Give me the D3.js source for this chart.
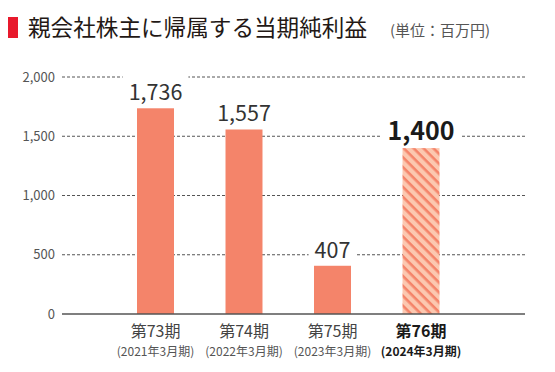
<!DOCTYPE html>
<html lang="ja">
<head>
<meta charset="utf-8">
<script src="https://cdn.jsdelivr.net/npm/d3@7"></script>
<style>
  html, body { margin: 0; padding: 0; background: #fff; }
  #chart { width: 555px; height: 372px; }
  text { font-family: "Noto Sans CJK JP", "Noto Sans", sans-serif; }
</style>
</head>
<body>
<div id="chart"></div>
<script>
// ====== data ======
const periods   = ["第73期", "第74期", "第75期", "第76期"];
const fiscal    = ["(2021年3月期)", "(2022年3月期)", "(2023年3月期)", "(2024年3月期)"];
const values    = [1736, 1557, 407, 1400];
const forecast  = [false, false, false, true];   // last bar is hatched & bold
const yTicks    = [0, 500, 1000, 1500, 2000];

const title = "親会社株主に帰属する当期純利益";
const unit  = "(単位：百万円)";

// ====== chart ======
const width = 555, height = 372;
const svg = d3.select("#chart").append("svg")
  .attr("width", width)
  .attr("height", height);

// hatch pattern for the forecast bar (stripes run top-left -> bottom-right)
const defs = svg.append("defs");
const pat = defs.append("pattern")
  .attr("id", "hatch")
  .attr("patternUnits", "userSpaceOnUse")
  .attr("width", 7).attr("height", 7)
  .attr("patternTransform", "rotate(45)");
pat.append("rect").attr("width", 7).attr("height", 7).attr("fill", "#fcc8b0");
pat.append("rect").attr("width", 7).attr("height", 2.6).attr("fill", "#f4846a");

// title
svg.append("rect")
  .attr("x", 8).attr("y", 17).attr("width", 10).attr("height", 21)
  .attr("fill", "#e8192c");
svg.append("text")
  .attr("x", 28).attr("y", 36)
  .attr("font-size", 22.5)
  .attr("textLength", 339)
  .attr("lengthAdjust", "spacingAndGlyphs")
  .attr("fill", "#231815")
  .text(title);
svg.append("text")
  .attr("x", 390).attr("y", 36)
  .attr("font-size", 14.5)
  .attr("textLength", 100)
  .attr("lengthAdjust", "spacingAndGlyphs")
  .attr("fill", "#555")
  .text(unit);

// scales
const y = d3.scaleLinear().domain([0, 2000]).range([314, 77]);
const x = d3.scaleBand()
  .domain(periods)
  .range([111.25, 465.25])
  .paddingInner(0.582)
  .paddingOuter(0.291);

const gridL = 62, gridR = 525;

// grid lines
svg.append("g")
  .selectAll("line")
  .data(yTicks.filter(d => d > 0))
  .join("line")
  .attr("x1", gridL).attr("x2", gridR)
  .attr("y1", d => y(d)).attr("y2", d => y(d))
  .attr("stroke", "#555")
  .attr("stroke-width", 1)
  .attr("stroke-dasharray", "3,2");

// y tick labels
svg.append("g")
  .selectAll("text")
  .data(yTicks)
  .join("text")
  .attr("x", 55)
  .attr("y", d => y(d))
  .attr("dy", "0.35em")
  .attr("text-anchor", "end")
  .attr("font-size", 13)
  .attr("fill", "#555")
  .text(d => d3.format(",")(d));

// bars
svg.append("g")
  .selectAll("rect")
  .data(values)
  .join("rect")
  .attr("x", (d, i) => x(periods[i]))
  .attr("y", d => y(d))
  .attr("width", x.bandwidth())
  .attr("height", d => y(0) - y(d))
  .attr("fill", (d, i) => forecast[i] ? "url(#hatch)" : "#f4846a");

// baseline
svg.append("line")
  .attr("x1", gridL).attr("x2", gridR)
  .attr("y1", y(0)).attr("y2", y(0))
  .attr("stroke", "#555")
  .attr("stroke-width", 1.5);

// value labels with white backing (breaks the grid line)
const lab = svg.append("g")
  .selectAll("g")
  .data(values)
  .join("g")
  .attr("transform", (d, i) =>
    `translate(${x(periods[i]) + x.bandwidth() / 2},${y(d) - 8})`);

lab.append("text")
  .attr("text-anchor", "middle")
  .attr("font-size", (d, i) => forecast[i] ? 25 : 21.5)
  .attr("font-weight", (d, i) => forecast[i] ? "bold" : "normal")
  .attr("fill", (d, i) => forecast[i] ? "#1a1a1a" : "#333")
  .text(d => d3.format(",")(d))
  .each(function() {
    const b = this.getBBox();
    d3.select(this.parentNode).insert("rect", "text")
      .attr("x", b.x - 6).attr("y", b.y)
      .attr("width", b.width + 12).attr("height", b.height)
      .attr("fill", "#fff");
  });

// x labels
const xl = svg.append("g")
  .selectAll("g")
  .data(periods)
  .join("g")
  .attr("transform", d => `translate(${x(d) + x.bandwidth() / 2},0)`);

xl.append("text")
  .attr("y", 337)
  .attr("text-anchor", "middle")
  .attr("font-size", 16)
  .attr("font-weight", (d, i) => forecast[i] ? "bold" : "normal")
  .attr("fill", (d, i) => forecast[i] ? "#1a1a1a" : "#444")
  .text(d => d);

xl.append("text")
  .attr("y", 356)
  .attr("text-anchor", "middle")
  .attr("font-size", 12)
  .attr("font-weight", (d, i) => forecast[i] ? "bold" : "normal")
  .attr("fill", (d, i) => forecast[i] ? "#1a1a1a" : "#555")
  .text((d, i) => fiscal[i]);
</script>
</body>
</html>
